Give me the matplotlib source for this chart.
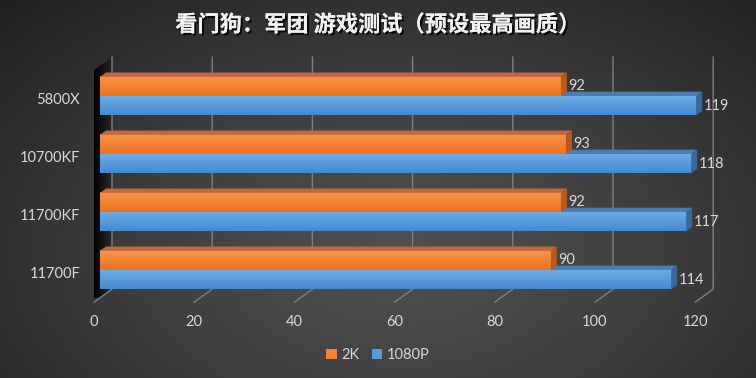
import numpy as np
import matplotlib.pyplot as plt
import matplotlib.patheffects as pe
from matplotlib.patches import Polygon, Rectangle
from matplotlib.colors import to_rgb

plt.rcParams['font.family'] = ['Lato', 'Noto Sans CJK SC', 'DejaVu Sans']

title = '看门狗：军团 游戏测试（预设最高画质）'
cpus = ['11700F', '11700KF', '10700KF', '5800X']
fps_2k = [90, 92, 93, 92]
fps_1080p = [114, 117, 118, 119]
series = ['2K', '1080P']
xticks = [0, 20, 40, 60, 80, 100, 120]

# fake 3d: full floor depth shift in (value units, category units)
DX, DY = 3.593, 0.224
YLO, YHI = -0.48, 3.52
BH = 0.33


def P(v, y, d):
    return (v + (d - 1 / 3) * DX, y + (d - 1 / 3) * DY)


def vgrad(ax, x0, x1, y0, y1, top, bot, z):
    g = np.linspace(0, 1, 64)[:, None, None]
    c0, c1 = np.array(to_rgb(top)), np.array(to_rgb(bot))
    img = c0 + (c1 - c0) * g
    ax.imshow(img, extent=(x0, x1, y0, y1), origin='upper', aspect='auto',
              interpolation='bilinear', zorder=z)


def bar3d(ax, y0, y1, v, front_top, front_bot, top_c, side_c, z):
    vgrad(ax, 0, v, y0, y1, front_top, front_bot, z)
    top = [P(0, y1, 1/3), P(v, y1, 1/3), P(v, y1, 2/3), P(0, y1, 2/3)]
    side = [P(v, y0, 1/3), P(v, y1, 1/3), P(v, y1, 2/3), P(v, y0, 2/3)]
    ax.add_patch(Polygon(top, closed=True, fc=top_c, ec='none', zorder=z))
    ax.add_patch(Polygon(side, closed=True, fc=side_c, ec='none', zorder=z))


fig = plt.figure(figsize=(7.56, 3.78), dpi=100)

# background radial gradient
bg = fig.add_axes([0, 0, 1, 1], zorder=-10)
yy, xx = np.mgrid[0:378, 0:756]
r = np.sqrt(((xx - 400) / 520) ** 2 + ((yy - 250) / 330) ** 2)
shade = np.clip(0.31 - 0.17 * r ** 1.3, 0.12, 0.32)
bg.imshow(np.dstack([shade] * 3), aspect='auto', extent=(0, 1, 0, 1))
bg.axis('off')

ax = fig.add_axes([0, 0, 1, 1])
ax.set_facecolor('none')
ax.axis('off')

# left wall
wall = [P(0, YLO, 0), P(0, YLO, 1), P(0, YHI, 1), P(0, YHI, 0)]
wall_patch = Polygon(wall, closed=True, fc='none', ec='none')
ax.add_patch(wall_patch)
wimg = ax.imshow(np.dstack([np.zeros((1, 32))] * 3 + [np.linspace(0.95, 0.25, 32)[None, :]]),
                 extent=(P(0, 0, 0)[0], P(0, 0, 1)[0], YLO, YHI + DY),
                 aspect='auto', interpolation='bilinear', zorder=1)
wimg.set_clip_path(wall_patch)

# grid: floor ticks and back wall lines
for t in xticks:
    fx, fy = P(t, YLO, 0)
    bx, by = P(t, YLO, 1)
    tx, ty = P(t, YHI, 1)
    ax.plot([fx, bx, tx], [fy, by, ty], color='#7f7f7f', lw=1, zorder=2)
    ax.text(fx, -0.897, str(t), ha='center', va='center', fontsize=10.5,
            color='#d9d9d9', zorder=5)

# bars
for i, (cpu, a, b) in enumerate(zip(cpus, fps_2k, fps_1080p)):
    bar3d(ax, i - BH, i, b, '#6eaee8', '#4589d0', '#4c7cb0', '#3a6699', 3)
    bar3d(ax, i, i + BH, a, '#f9954a', '#ec721f', '#c0693e', '#b85a1c', 4)
    ax.text(a + 1.5, i + BH / 2, str(a), ha='left', va='center',
            fontsize=10.5, color='#d9d9d9', zorder=6)
    ax.text(b + 1.5, i - BH / 2, str(b), ha='left', va='center',
            fontsize=10.5, color='#d9d9d9', zorder=6)
    ax.text(-3.99, i - 0.075, cpu, ha='right', va='center',
            fontsize=10.5, color='#d9d9d9', zorder=6)

ax.set_xlim(-19.96, 130.94)
ax.set_ylim(-1.862, 4.655)

fig.text(0.5, 0.934, title, ha='center', va='center', fontsize=16,
         fontweight='bold', color='#f2f2f2',
         family=['Noto Sans CJK SC', 'DejaVu Sans'],
         path_effects=[pe.withSimplePatchShadow(offset=(1.5, -1.5),
                                                shadow_rgbFace='black',
                                                alpha=0.8), pe.Normal()])

handles = [Rectangle((0, 0), 1, 1, fc='#f28533'), Rectangle((0, 0), 1, 1, fc='#5b9bd5')]
fig.legend(handles, series, loc='center', bbox_to_anchor=(0.5, 0.061), ncol=2,
           frameon=False, handlelength=0.7, handleheight=0.7,
           handletextpad=0.3, columnspacing=0.9, labelcolor='#d9d9d9',
           fontsize=10.5)

fig.savefig('out.png', dpi=100)
plt.close(fig)
